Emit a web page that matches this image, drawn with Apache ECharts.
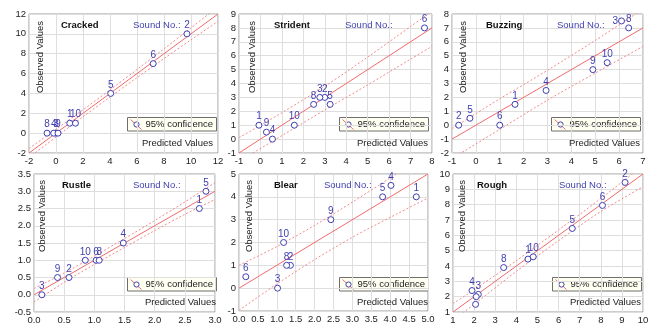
<!DOCTYPE html>
<html><head><meta charset="utf-8">
<script src="https://cdn.jsdelivr.net/npm/echarts@6/dist/echarts.min.js"></script>
<style>html,body{margin:0;padding:0;background:#fff}#c{width:659px;height:327px}</style>
</head><body><div id="c"></div>
<script>
// ---- data ----
const titles = ['Cracked', 'Strident', 'Buzzing', 'Rustle', 'Blear', 'Rough'];
const legendText = '95% confidence';
const soundText = 'Sound No.:';
const xName = 'Predicted Values';
const yName = 'Observed Values';

// axis ranges (tick labels)
const xMin = [-2, -1, -1, 0, 0, 1];
const xMax = [12, 8, 7, 3, 5, 10];
const xStep = [2, 1, 1, 0.5, 0.5, 1];
const yMin = [-2, -1, -2, -0.5, -1, 1];
const yMax = [12, 9, 8, 3.5, 5, 10];
const yStep = [2, 1, 1, 0.5, 1, 1];

// sound points: label, predicted, observed
const crackedNo = ['1', '2', '3', '4', '5', '6', '8', '9', '10'];
const crackedPred = [1.02, 9.7, 0.0, -0.17, 4.05, 7.2, -0.66, 0.15, 1.44];
const crackedObs = [1, 10, 0, 0, 4, 7, 0, 0, 1];

const stridentNo = ['1', '2', '3', '4', '5', '6', '8', '9', '10'];
const stridentPred = [-0.07, 3.0, 2.77, 0.56, 3.25, 7.65, 2.48, 0.28, 1.58];
const stridentObs = [1, 3, 3, 0, 2.5, 8, 2.5, 0.5, 1];

const buzzingNo = ['1', '2', '3', '4', '5', '6', '8', '9', '10'];
const buzzingPred = [1.64, -0.72, 6.1, 2.94, -0.25, 1.0, 6.4, 4.9, 5.5];
const buzzingObs = [1.5, 0, 7.5, 2.5, 0.5, 0, 7, 4, 4.5];

const rustleNo = ['1', '2', '3', '4', '5', '6', '8', '9', '10'];
const rustlePred = [2.74, 0.58, 0.13, 1.48, 2.85, 1.03, 1.08, 0.39, 0.85];
const rustleObs = [2.5, 0.5, 0, 1.5, 3, 1, 1, 0.5, 1];

const blearNo = ['1', '2', '3', '4', '5', '6', '8', '9', '10'];
const blearPred = [4.69, 1.36, 1.02, 4.02, 3.8, 0.18, 1.26, 2.43, 1.18];
const blearObs = [4, 1, 0, 4.5, 4, 0.5, 1, 3, 2];

const roughNo = ['1', '2', '3', '4', '5', '6', '', '8', '', '10'];
const roughPred = [4.55, 9.15, 2.2, 1.9, 6.65, 8.08, 2.1, 3.4, 2.07, 4.8];
const roughObs = [4.45, 9.45, 2.15, 2.4, 6.45, 7.95, 2.0, 3.9, 1.5, 4.6];

// reference line (observed = predicted) end points
const crackedRef = [[-2, -2], [12, 12]];
const stridentRef = [[-1, -1], [8, 8]];
const buzzingRef = [[-1, -1], [7, 7]];
const rustleRef = [[0, 0], [3, 3]];
const blearRef = [[0, 0], [5, 5]];
const roughRef = [[1, 1], [10, 10]];

// 95% confidence bands
const crackedBandX = [-2, 0, 2, 4, 6, 8, 10, 12];
const crackedUpper = [-1.54, 0.39, 2.35, 4.36, 6.41, 8.49, 10.6, 12.74];
const crackedLower = [-2.46, -0.39, 1.65, 3.64, 5.59, 7.51, 9.4, 11.26];

const stridentBandX = [-1, 1, 3, 5, 7, 8];
const stridentUpper = [0.1, 1.9, 3.8, 5.9, 8.1, 9.2];
const stridentLower = [-1.6, 0.25, 2.1, 3.9, 5.75, 6.67];

const buzzingBandX = [-1, 1, 3, 5, 7];
const buzzingUpper = [-0.25, 1.9, 3.95, 6.1, 8.35];
const buzzingLower = [-2.4, -0.3, 1.8, 3.75, 5.67];

const rustleBandX = [0, 0.5, 1, 1.5, 2, 2.5, 3];
const rustleUpper = [0.18, 0.63, 1.12, 1.63, 2.15, 2.69, 3.25];
const rustleLower = [-0.21, 0.36, 0.88, 1.37, 1.86, 2.33, 2.76];

const blearBandX = [0, 1, 2, 3, 4, 5];
const blearUpper = [1.0, 1.82, 2.75, 3.77, 4.83, 5.93];
const blearLower = [-0.97, 0.18, 1.25, 2.23, 3.1, 3.95];

const roughBandX = [1, 2, 4, 6, 8, 10];
const roughUpper = [1.55, 2.45, 4.35, 6.35, 8.4, 10.55];
const roughLower = [0.45, 1.5, 3.65, 5.65, 7.55, 9.17];

// ---- layout (pixels) ----
const gLeft = [29, 239, 452, 34, 239, 453];
const gTop = [14, 14, 14, 174, 174, 174];
const gW = [189, 193, 191, 181, 189, 190];
const gH = [139, 139, 139, 138, 137, 138];
const titleX = [61, 274, 486, 62, 274, 477];
const soundX = [133, 345, 557, 133, 324, 559];
const textY = [25, 25, 25, 185, 185, 185];
const obsX = [40, 252, 463, 42, 249, 462];
const obsY = [57, 57, 57, 216, 216, 216];
const predR = [213, 428, 640, 216, 428, 641];
const predY = [143, 143, 143, 302, 302, 302];
const legX = [127, 339, 551, 127, 339, 552];
const legY = [117, 117, 117, 277, 277, 277];

// ---- build ----
const FONT = '"Liberation Sans", Arial, sans-serif';
const BLUE = '#3f3fb0';
const RED = '#f26a6a';
const PINK = '#f38a8a';

const pts = [
  [crackedNo, crackedPred, crackedObs],
  [stridentNo, stridentPred, stridentObs],
  [buzzingNo, buzzingPred, buzzingObs],
  [rustleNo, rustlePred, rustleObs],
  [blearNo, blearPred, blearObs],
  [roughNo, roughPred, roughObs]
];
const refs = [crackedRef, stridentRef, buzzingRef, rustleRef, blearRef, roughRef];
const bands = [
  [crackedBandX, crackedUpper, crackedLower],
  [stridentBandX, stridentUpper, stridentLower],
  [buzzingBandX, buzzingUpper, buzzingLower],
  [rustleBandX, rustleUpper, rustleLower],
  [blearBandX, blearUpper, blearLower],
  [roughBandX, roughUpper, roughLower]
];

const grid = [], xAxis = [], yAxis = [], series = [], graphic = [];
const fmt = (step) => (v) => step < 1 ? v.toFixed(1) : String(v);

for (let i = 0; i < 6; i++) {
  grid.push({left: gLeft[i], top: gTop[i], width: gW[i], height: gH[i], show: true,
    borderColor: '#9a9a9a', borderWidth: 1, backgroundColor: '#fff'});
  const axisCommon = {
    gridIndex: i, type: 'value',
    axisLine: {show: false}, axisTick: {show: false},
    splitLine: {show: true, lineStyle: {color: '#dedede', width: 1}},
    axisLabel: {fontSize: 9.5, color: '#222', fontFamily: FONT, showMinLabel: true, showMaxLabel: true}
  };
  xAxis.push(Object.assign({}, axisCommon, {min: xMin[i], max: xMax[i], interval: xStep[i],
    axisLabel: Object.assign({}, axisCommon.axisLabel, {margin: 3, formatter: fmt(xStep[i])})}));
  yAxis.push(Object.assign({}, axisCommon, {min: yMin[i], max: yMax[i], interval: yStep[i],
    axisLabel: Object.assign({}, axisCommon.axisLabel, {margin: 3, formatter: fmt(yStep[i])})}));

  // reference line
  series.push({type: 'line', xAxisIndex: i, yAxisIndex: i, data: refs[i], symbol: 'none', silent: true,
    lineStyle: {color: RED, width: 1}, clip: true, z: 2});
  // confidence bands
  const [bx, bu, bl] = bands[i];
  [bu, bl].forEach(arr => {
    series.push({type: 'line', xAxisIndex: i, yAxisIndex: i, smooth: 0.3, symbol: 'none', silent: true,
      data: bx.map((x, k) => [x, arr[k]]), clip: true, z: 2,
      lineStyle: {color: PINK, width: 1, type: [2, 2]}});
  });
  // points
  const [no, px, py] = pts[i];
  const pxPerY = gH[i] / (yMax[i] - yMin[i]);
  series.push({type: 'scatter', xAxisIndex: i, yAxisIndex: i, symbol: 'circle', symbolSize: 6, z: 5,
    itemStyle: {color: '#fff', borderColor: BLUE, borderWidth: 1, opacity: 1},
    data: no.map((n, k) => {
      const nearTop = (yMax[i] - py[k]) * pxPerY < 8;
      return {name: n, value: [px[k], py[k]],
        label: {position: nearTop ? 'left' : 'top', distance: 0}};
    }),
    label: {show: true, formatter: p => p.name, color: BLUE, fontSize: 10, fontFamily: FONT}
  });

  // texts
  graphic.push({type: 'text', x: titleX[i], y: textY[i], z: 10,
    style: {text: titles[i], fill: '#111', font: 'bold 9.5px ' + FONT, align: 'left', verticalAlign: 'middle'}});
  graphic.push({type: 'text', x: soundX[i], y: textY[i], z: 10,
    style: {text: soundText, fill: BLUE, font: '9.5px ' + FONT, align: 'left', verticalAlign: 'middle'}});
  graphic.push({type: 'text', x: obsX[i], y: obsY[i], rotation: Math.PI / 2, z: 10,
    style: {text: yName, fill: '#222', font: '9.5px ' + FONT, align: 'center', verticalAlign: 'middle'}});
  graphic.push({type: 'text', x: predR[i], y: predY[i], z: 10,
    style: {text: xName, fill: '#222', font: '9.5px ' + FONT, align: 'right', verticalAlign: 'middle'}});
  // legend box
  const lx = legX[i], ly = legY[i];
  graphic.push({type: 'group', z: 10, children: [
    {type: 'rect', shape: {x: lx + 0.5, y: ly + 0.5, width: 89, height: 13.5},
      style: {fill: '#fffff2', stroke: '#6e6e6e', lineWidth: 1}},
    {type: 'line', shape: {x1: lx + 3.5, y1: ly + 2.5, x2: lx + 14.5, y2: ly + 12.5},
      style: {stroke: RED, lineWidth: 1}},
    {type: 'circle', shape: {cx: lx + 9.5, cy: ly + 7.5, r: 2.6},
      style: {fill: '#fffff2', stroke: BLUE, lineWidth: 1}},
    {type: 'text', x: lx + 18.5, y: ly + 7.5,
      style: {text: legendText, fill: '#222', font: '9.5px ' + FONT, align: 'left', verticalAlign: 'middle'}}
  ]});
}

const chart = echarts.init(document.getElementById('c'), null, {renderer: 'canvas'});
chart.setOption({animation: false, backgroundColor: '#fff', grid, xAxis, yAxis, series, graphic});
</script></body></html>
